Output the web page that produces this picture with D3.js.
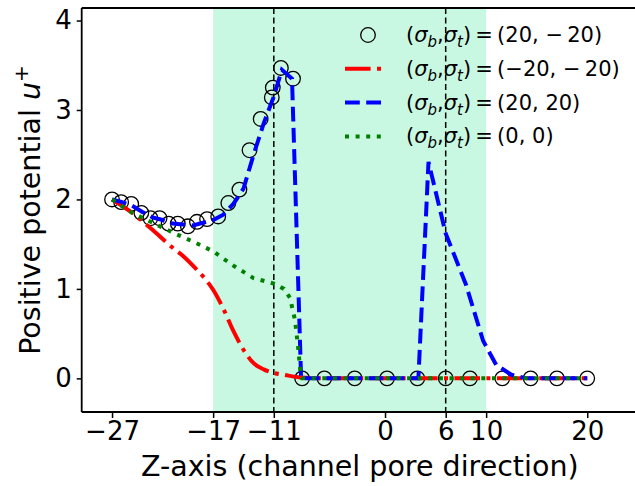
<!DOCTYPE html>
<html>
<head>
<meta charset="utf-8">
<script src="https://cdn.jsdelivr.net/npm/d3@7"></script>
<style>
  html, body { margin: 0; padding: 0; background: #fff; }
  svg { display: block; font-family: "DejaVu Sans", sans-serif; }
</style>
</head>
<body>
<svg id="chart" width="635" height="486"></svg>
<script>
// ---------------- DATA ----------------
const xTicks = [-27, -17, -11, 0, 6, 10, 20];
const yTicks = [0, 1, 2, 3, 4];
const shadeRange = [-17, 10];
const vLines = [-11, 6];

// (sigma_b, sigma_t) = (20, -20)  -> circles
const circleZ = [-27, -26.1, -25.1, -24.1, -23.2, -22.3, -21.4, -20.5, -19.5, -18.6, -17.6, -16.5, -15.5, -14.4, -13.4, -12.3, -11.2, -11.1, -10.3, -9.1,
                 -8.2, -6, -3, 0.2, 3.2, 6, 8.4, 11.6, 14.4, 17, 20];
const circleU = [2.00, 1.97, 1.95, 1.85, 1.79, 1.79, 1.73, 1.73, 1.70, 1.75, 1.78, 1.81, 1.96, 2.11, 2.55, 2.90, 3.14, 3.25, 3.47, 3.35,
                 0, 0, 0, 0, 0, 0, 0, 0, 0, 0, 0];

// (sigma_b, sigma_t) = (-20, -20) -> red dash-dot
const redZ = [-27, -25, -23, -21, -20, -19, -18, -17, -16, -15, -14, -13, -12, -11, -10, -8.3, -6, -3, 0, 3, 6, 9, 12, 15, 18, 20];
const redU = [2.00, 1.85, 1.66, 1.46, 1.37, 1.26, 1.14, 0.99, 0.78, 0.53, 0.32, 0.17, 0.10, 0.06, 0.04, 0.01, 0, 0, 0, 0, 0, 0, 0, 0, 0, 0];

// (sigma_b, sigma_t) = (20, 20) -> blue dashed
const blueZ = [-27, -26, -25, -24, -23, -22, -21, -20, -19, -18, -17, -16, -15, -14, -13, -12, -11, -10.2, -9.2, -8.3, -6, -3, 0, 3.3, 4.3, 6, 8, 9.7, 11, 12.5, 14, 17, 20];
const blueU = [2.00, 1.97, 1.93, 1.86, 1.80, 1.77, 1.73, 1.72, 1.71, 1.74, 1.77, 1.83, 1.95, 2.12, 2.50, 2.85, 3.15, 3.45, 3.35, 0, 0, 0, 0, 0, 2.42, 1.62, 1.05, 0.42, 0.15, 0.04, 0, 0, 0];

// (sigma_b, sigma_t) = (0, 0) -> green dotted
const greenZ = [-27, -25, -23, -21, -19, -17, -15, -13, -11, -10, -9.4, -8.9, -8.6, -8.35, -8.2, -6, -3, 0, 3, 6, 9, 12, 15, 18, 20];
const greenU = [2.00, 1.85, 1.74, 1.63, 1.53, 1.42, 1.26, 1.12, 1.06, 1.00, 0.90, 0.65, 0.35, 0.05, 0, 0, 0, 0, 0, 0, 0, 0, 0, 0, 0];

const legendLabels = [
  {b: "20", t: "\u2212\u200920"},
  {b: "\u221220", t: "\u2212\u200920"},
  {b: "20", t: "20"},
  {b: "0", t: "0"}
];

// ---------------- LAYOUT ----------------
const svg = d3.select("#chart");
const L = 81.7, R = 637.8, T = 8, B = 412;
const x = d3.scaleLinear().domain([-30, 25]).range([L, R]);
const y = d3.scaleLinear().domain([-0.376, 4.14]).range([B, T]);

svg.append("defs").append("clipPath").attr("id", "clip")
  .append("rect").attr("x", L).attr("y", T).attr("width", R - L).attr("height", B - T);

// shaded region
svg.append("rect")
  .attr("x", x(shadeRange[0])).attr("y", T)
  .attr("width", x(shadeRange[1]) - x(shadeRange[0]))
  .attr("height", B - T)
  .attr("fill", "#c9f8e2");

// vertical dashed lines
svg.selectAll(".vline").data(vLines).join("line")
  .attr("x1", d => x(d)).attr("x2", d => x(d))
  .attr("y1", T).attr("y2", B)
  .attr("stroke", "#000").attr("stroke-width", 1.5)
  .attr("stroke-dasharray", "6,3.5");

const plot = svg.append("g").attr("clip-path", "url(#clip)");

// circles
plot.selectAll(".circ").data(circleZ.map((z, i) => [z, circleU[i]])).join("circle")
  .attr("cx", d => x(d[0])).attr("cy", d => y(d[1])).attr("r", 7.3)
  .attr("fill", "none").attr("stroke", "#000").attr("stroke-width", 1.3);

const series = [
  {z: redZ, u: redU, color: "#ff0000", dash: "25.6,6.4,4,6.4", curve: d3.curveMonotoneX},
  {z: blueZ, u: blueU, color: "#0000ff", dash: "14.8,6.4", curve: d3.curveLinear},
  {z: greenZ, u: greenU, color: "#008000", dash: "4,6.6", curve: d3.curveLinear}
];
series.forEach(s => {
  const line = d3.line().x(d => x(d[0])).y(d => y(d[1])).curve(s.curve);
  plot.append("path")
    .datum(s.z.map((z, i) => [z, s.u[i]]))
    .attr("d", line)
    .attr("fill", "none")
    .attr("stroke", s.color)
    .attr("stroke-width", 4)
    .attr("stroke-dasharray", s.dash);
});

// axes
const xAxis = svg.append("g").attr("transform", `translate(0,${B})`)
  .call(d3.axisBottom(x).tickValues(xTicks).tickSize(6).tickPadding(3.5)
        .tickFormat(d => d < 0 ? "\u2212" + Math.abs(d) : String(d)));
const yAxis = svg.append("g").attr("transform", `translate(${L},0)`)
  .call(d3.axisLeft(y).tickValues(yTicks).tickSize(5).tickPadding(5).tickFormat(d3.format("d")));
[xAxis, yAxis].forEach(a => {
  a.select(".domain").remove();
  a.selectAll("line").attr("stroke", "#000").attr("stroke-width", 1.5);
  a.selectAll("text").attr("fill", "#000").style("font-size", "26px").style("font-family", "DejaVu Sans");
});

// spines (left, bottom, top; right lies outside the picture)
svg.append("line").attr("x1", L).attr("x2", L).attr("y1", T).attr("y2", B).attr("stroke", "#000").attr("stroke-width", 1.8);
svg.append("line").attr("x1", L).attr("x2", 635).attr("y1", B).attr("y2", B).attr("stroke", "#000").attr("stroke-width", 1.8);
svg.append("line").attr("x1", L).attr("x2", 635).attr("y1", T).attr("y2", T).attr("stroke", "#000").attr("stroke-width", 1.8);

// axis labels
svg.append("text")
  .attr("x", (L + R) / 2).attr("y", 476)
  .attr("text-anchor", "middle")
  .style("font-size", "28.5px")
  .text("Z-axis (channel pore direction)");

const yl = svg.append("text")
  .attr("transform", `translate(40,${(T + B) / 2}) rotate(-90)`)
  .attr("text-anchor", "middle")
  .style("font-size", "28.5px");
yl.append("tspan").text("Positive potential ");
yl.append("tspan").style("font-style", "italic").text("u");
yl.append("tspan").attr("dy", -12).style("font-size", "20px").text("+");

// legend
const legX = 345, legY0 = 35, legDy = 33.8;
const leg = svg.append("g");
legendLabels.forEach((lab, i) => {
  const cy = legY0 + i * legDy;
  if (i === 0) {
    leg.append("circle").attr("cx", legX + 23).attr("cy", cy).attr("r", 7.3)
      .attr("fill", "none").attr("stroke", "#000").attr("stroke-width", 1.3);
  } else {
    const s = series[i - 1];
    leg.append("line").attr("x1", legX).attr("x2", legX + 40)
      .attr("y1", cy).attr("y2", cy)
      .attr("stroke", s.color).attr("stroke-width", 4)
      .attr("stroke-dasharray", s.dash);
  }
  const t = leg.append("text").attr("x", 406).attr("y", cy + 7).style("font-size", "21px");
  t.append("tspan").text("(");
  t.append("tspan").style("font-style", "italic").text("\u03c3");
  t.append("tspan").attr("dy", 5).style("font-size", "15px").style("font-style", "italic").text("b");
  t.append("tspan").attr("dy", -5).text(",");
  t.append("tspan").style("font-style", "italic").text("\u03c3");
  t.append("tspan").attr("dy", 5).style("font-size", "15px").style("font-style", "italic").text("t");
  t.append("tspan").attr("dy", -5).text(")\u2009=\u2009(" + lab.b + ", " + lab.t + ")");
});
</script>
</body>
</html>
